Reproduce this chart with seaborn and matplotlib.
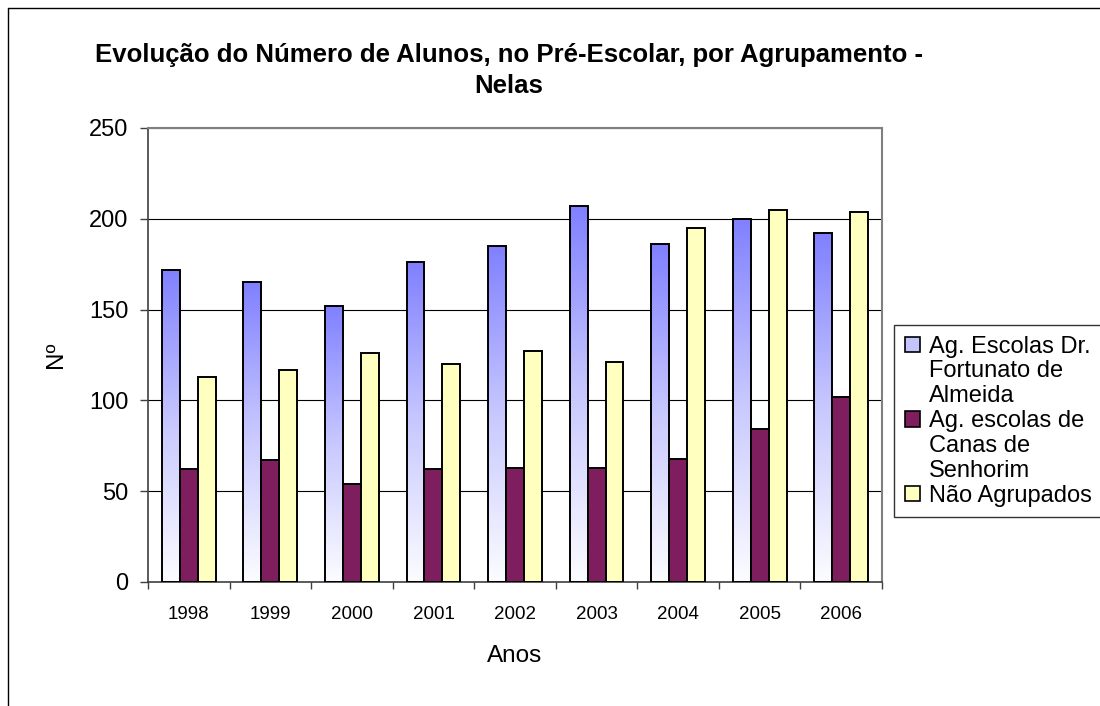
import numpy as np
import pandas as pd
import matplotlib
matplotlib.use('Agg')
import matplotlib.pyplot as plt
import seaborn as sns
from matplotlib.patches import Patch
from matplotlib.lines import Line2D
from matplotlib.colors import LinearSegmentedColormap

anos = ['1998', '1999', '2000', '2001', '2002', '2003', '2004', '2005', '2006']
fortunato = [172, 165, 152, 176, 185, 207, 186, 200, 192]
canas = [62, 67, 54, 62, 63, 63, 68, 84, 102]
nao_agrupados = [113, 117, 126, 120, 127, 121, 195, 205, 204]
series = ['Ag. Escolas Dr. Fortunato de Almeida',
          'Ag. escolas de Canas de Senhorim',
          'Não Agrupados']
legend_lines = [['Ag. Escolas Dr.', 'Fortunato de', 'Almeida'],
                ['Ag. escolas de', 'Canas de', 'Senhorim'],
                ['Não Agrupados']]
colors = ['#8080FF', '#7E1E5E', '#FFFFC0']

sns.set_theme(style='ticks')
plt.rcParams['font.family'] = ['Liberation Sans', 'DejaVu Sans']
plt.rcParams['text.color'] = 'black'
plt.rcParams['axes.labelcolor'] = 'black'
plt.rcParams['xtick.color'] = 'black'
plt.rcParams['ytick.color'] = 'black'

df = pd.DataFrame({
    'Ano': anos * 3,
    'N': fortunato + canas + nao_agrupados,
    'Serie': [s for s in series for _ in anos],
})

fig = plt.figure(figsize=(11, 7.06), dpi=100)
ax = fig.add_axes([148 / 1100, 1 - 582 / 706, (882 - 148) / 1100, (582 - 128) / 706])

sns.barplot(data=df, x='Ano', y='N', hue='Serie', hue_order=series,
            palette=colors, saturation=1, width=0.66, edgecolor='black',
            linewidth=1.4, legend=False, ax=ax, errorbar=None, zorder=3)

# gradient fill for first series
cmap = LinearSegmentedColormap.from_list('grad', ['#FCFCFF', '#C8C8FF', '#8080FF'])
grad = np.linspace(1, 0, 256).reshape(-1, 1)
for bar in ax.containers[0]:
    x0 = bar.get_x()
    w = bar.get_width()
    h = bar.get_height()
    bar.set_facecolor('none')
    ax.imshow(grad, extent=[x0, x0 + w, 0, h], aspect='auto', cmap=cmap,
              vmin=0, vmax=1, zorder=2.5, interpolation='bicubic')

ax.set_xlim(-0.5, 8.5)
ax.set_ylim(0, 250)
ax.set_aspect('auto')

ax.set_yticks([0, 50, 100, 150, 200, 250])
ax.yaxis.grid(True, color='black', linewidth=0.8)
ax.set_axisbelow(True)

ax.set_xticks(range(len(anos)))
ax.set_xticklabels(anos)
ax.set_xticks(np.arange(-0.5, 9, 1), minor=True)
ax.tick_params(axis='x', which='major', length=0, labelsize=13.5, pad=17, labelcolor='black')
ax.tick_params(axis='x', which='minor', length=5, width=1, color='#404040')
ax.tick_params(axis='y', which='major', length=6, width=1, labelsize=17, pad=8,
               color='#404040', labelcolor='black')

for side in ['top', 'right']:
    ax.spines[side].set_color('#808080')
    ax.spines[side].set_linewidth(1.5)
for side in ['left', 'bottom']:
    ax.spines[side].set_color('#404040')
    ax.spines[side].set_linewidth(1.2)

ax.set_xlabel('Anos', fontsize=17.5, labelpad=16, color='black')
ax.set_ylabel('Nº', fontsize=17.5, labelpad=16, color='black')

fig.text(509 / 1100, 1 - 62 / 706,
         'Evolução do Número de Alunos, no Pré-Escolar, por Agrupamento -',
         ha='center', va='baseline', fontsize=18.5, weight='bold', color='black')
fig.text(509 / 1100, 1 - 93 / 706, 'Nelas',
         ha='center', va='baseline', fontsize=18.5, weight='bold', color='black')

# legend
handle_colors = ['#C4C4FF', colors[1], colors[2]]
handles, labels = [], []
for i, lines in enumerate(legend_lines):
    for j, line in enumerate(lines):
        if j == 0:
            handles.append(Patch(facecolor=handle_colors[i], edgecolor='black', linewidth=1.2))
        else:
            handles.append(Patch(facecolor='none', edgecolor='none'))
        labels.append(line)
leg = fig.legend(handles, labels, loc='upper left',
                 bbox_to_anchor=(894 / 1100, 1 - 325 / 706),
                 bbox_transform=fig.transFigure, fontsize=17,
                 handlelength=0.64, handleheight=0.64, handletextpad=0.4,
                 labelspacing=0.12, borderpad=0.45, borderaxespad=0,
                 fancybox=False, frameon=True)
leg.get_frame().set_edgecolor('black')
leg.get_frame().set_linewidth(1.0)
for t in leg.get_texts():
    t.set_color('black')

# outer chart border
fig.add_artist(Line2D([8 / 1100, 8 / 1100], [0, 1 - 8 / 706], transform=fig.transFigure,
                      color='black', linewidth=1.0))
fig.add_artist(Line2D([8 / 1100, 1], [1 - 8 / 706, 1 - 8 / 706], transform=fig.transFigure,
                      color='black', linewidth=1.0))

fig.savefig('out.png', dpi=100)
